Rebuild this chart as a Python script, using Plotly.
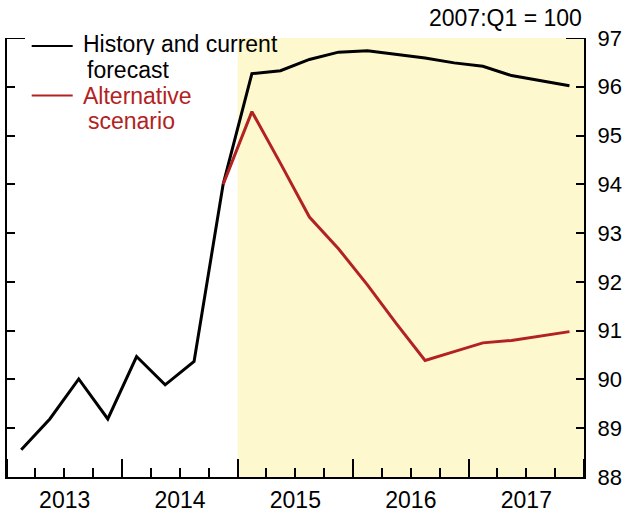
import pandas as pd
import plotly.graph_objects as go

# ---- data ----
quarters = ["2013Q1", "2013Q2", "2013Q3", "2013Q4",
            "2014Q1", "2014Q2", "2014Q3", "2014Q4",
            "2015Q1", "2015Q2", "2015Q3", "2015Q4",
            "2016Q1", "2016Q2", "2016Q3", "2016Q4",
            "2017Q1", "2017Q2", "2017Q3", "2017Q4"]
history_forecast = [88.56, 89.19, 90.01, 89.19,
                    90.47, 89.89, 90.37, 94.00,
                    96.27, 96.33, 96.56, 96.71,
                    96.74, 96.67, 96.59, 96.49,
                    96.42, 96.23, 96.12, 96.02]
alt_quarters = quarters[7:]
alternative = [94.00,
               95.49, 94.43, 93.33, 92.68,
               91.94, 91.15, 90.39, 90.57,
               90.75, 90.80, 90.89, 90.98]
y_ticks = list(range(88, 98))
forecast_start = "2015-01-01"

FONT = "Liberation Sans, Arial, sans-serif"
BLACK = "#000000"
RED = "#B22222"
SHADE = "#FEF8CE"


def q_mid(q):
    p = pd.Period(q, freq="Q")
    s, e = p.start_time, p.end_time
    return s + (e - s) / 2


x_hist = [q_mid(q) for q in quarters]
x_alt = [q_mid(q) for q in alt_quarters]

fig = go.Figure()
fig.add_trace(go.Scatter(x=x_hist, y=history_forecast, mode="lines",
                         line=dict(color=BLACK, width=3), showlegend=False))
fig.add_trace(go.Scatter(x=x_alt, y=alternative, mode="lines",
                         line=dict(color=RED, width=3), showlegend=False))

# forecast shading
fig.add_shape(type="rect", xref="x", yref="y", x0=forecast_start, x1="2018-01-01",
              y0=88, y1=97, fillcolor=SHADE, line=dict(width=0), layer="below")

# longer ticks at the top of both vertical axes
fig.add_shape(type="line", xref="paper", xsizemode="pixel", xanchor=0, x0=0, x1=18,
              yref="y", y0=97, y1=97, line=dict(color=BLACK, width=2))
fig.add_shape(type="line", xref="paper", xsizemode="pixel", xanchor=1, x0=-18, x1=0,
              yref="y", y0=97, y1=97, line=dict(color=BLACK, width=2))

W, H = 623, 514
PL, PR, PT, PB = 7, 584, 38, 477   # plot area in pixels
L, T, R, B = PL, PT, W - PR, H - PB
pw, ph = PR - PL, PB - PT


def px(xpix):
    return (xpix - PL) / pw


def py(ypix):
    return (PB - ypix) / ph


# legend (manual)
for yy, col in [(46.0, BLACK), (95.5, RED)]:
    fig.add_shape(type="line", xref="paper", yref="paper",
                  x0=px(31.7), x1=px(72.7), y0=py(yy), y1=py(yy),
                  line=dict(color=col, width=2))
legend_lines = [("History and current", 82, 44.1, BLACK),
                ("forecast", 86, 69.9, BLACK),
                ("Alternative", 82, 95.7, RED),
                ("scenario", 87, 121.5, RED)]
for txt, xx, yy, col in legend_lines:
    fig.add_annotation(text=txt, xref="paper", yref="paper", x=px(xx), y=py(yy),
                       xanchor="left", yanchor="middle", showarrow=False,
                       borderpad=0, height=22,
                       font=dict(family=FONT, size=23, color=col))

fig.add_annotation(text="2007:Q1 = 100", xref="paper", yref="paper",
                   x=px(584), y=py(18.5), xanchor="right", yanchor="middle",
                   showarrow=False, font=dict(family=FONT, size=23, color=BLACK))

fig.update_layout(
    width=W, height=H,
    margin=dict(l=L, r=R, t=T, b=B, autoexpand=False),
    paper_bgcolor="white", plot_bgcolor="white",
    font=dict(family=FONT, size=23, color=BLACK),
    xaxis=dict(type="date", range=["2013-01-01", "2018-01-01"],
               tick0="2013-01-01", dtick="M12", tickformat="%Y",
               ticklabelmode="period", ticks="inside", ticklen=18, tickwidth=2,
               tickcolor=BLACK, showline=True, linecolor=BLACK, linewidth=2,
               showgrid=False, zeroline=False, ticklabelstandoff=1,
               minor=dict(dtick="M3", tick0="2013-01-01", ticks="inside",
                          ticklen=9, tickwidth=2, tickcolor=BLACK, showgrid=False)),
    yaxis=dict(range=[88, 97], tickvals=y_ticks, side="right", ticks="inside",
               ticklen=8, tickwidth=2, tickcolor=BLACK, showline=True,
               linecolor=BLACK, linewidth=2, mirror="ticks", showgrid=False,
               zeroline=False, ticklabelstandoff=7,
               tickfont=dict(family=FONT, size=22, color=BLACK)),
)

fig.write_html(
    "out.html",
    config={"displayModeBar": False},
    post_script="document.body.style.margin='0';"
                "document.documentElement.style.overflow='hidden';",
)
